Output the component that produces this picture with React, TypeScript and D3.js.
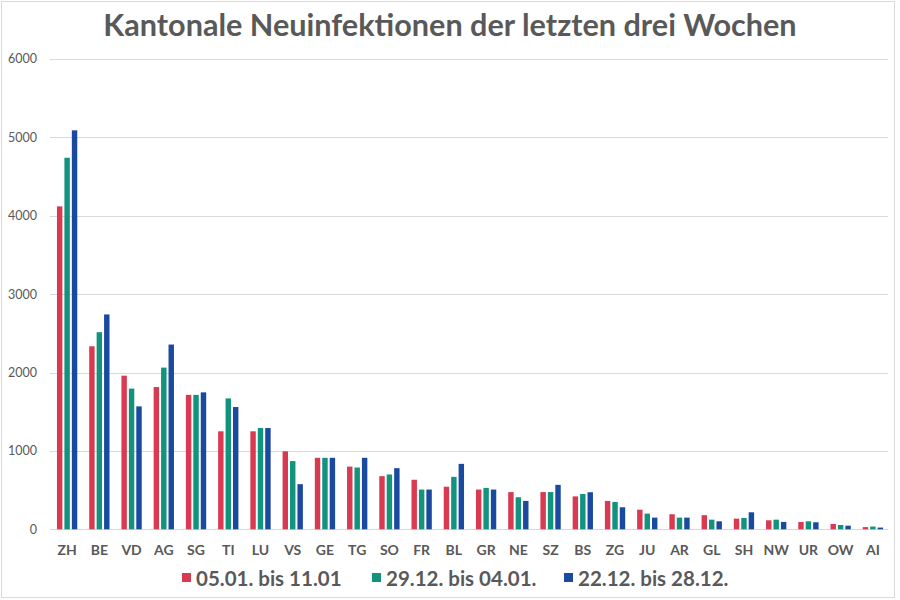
import { useMemo } from "react";
import * as d3 from "d3";

const WIDTH = 900;
const HEIGHT = 600;
const MARGIN = { top: 59, right: 11, bottom: 71, left: 51 };

const cantons = [
  "ZH", "BE", "VD", "AG", "SG", "TI", "LU", "VS", "GE", "TG", "SO", "FR", "BL",
  "GR", "NE", "SZ", "BS", "ZG", "JU", "AR", "GL", "SH", "NW", "UR", "OW", "AI",
];

// 05.01. bis 11.01
const week1 = [
  4120, 2335, 1960, 1815, 1715, 1250, 1250, 995, 912, 800, 678, 632, 543,
  507, 475, 475, 420, 362, 250, 192, 180, 136, 115, 94, 68, 28,
];
// 29.12. bis 04.01.
const week2 = [
  4740, 2515, 1795, 2063, 1715, 1670, 1292, 870, 912, 788, 699, 507, 669,
  528, 409, 475, 450, 349, 200, 149, 123, 145, 123, 102, 55, 35,
];
// 22.12. bis 28.12.
const week3 = [
  5090, 2741, 1568, 2357, 1747, 1560, 1292, 576, 912, 912, 780, 507, 835,
  507, 362, 567, 473, 281, 149, 149, 102, 217, 94, 90, 46, 22,
];

const seriesNames = ["05.01. bis 11.01", "29.12. bis 04.01.", "22.12. bis 28.12."];
const seriesColors = ["#d93a52", "#12937e", "#1a4aa0"];
const yTicks = [0, 1000, 2000, 3000, 4000, 5000, 6000];

const legendX = [182, 372, 564];

const TEXT = "#595959";
const FONT = "Lato, 'Open Sans', sans-serif";

export default function App() {
  const series = [week1, week2, week3];

  const { x, xInner, y } = useMemo(() => {
    const x = d3
      .scaleBand<string>()
      .domain(cantons)
      .range([MARGIN.left, WIDTH - MARGIN.right])
      .paddingInner(0.37)
      .paddingOuter(0.185);
    const xInner = d3
      .scaleBand<number>()
      .domain([0, 1, 2])
      .range([0, x.bandwidth()])
      .paddingInner(0.27);
    const y = d3
      .scaleLinear()
      .domain([0, 6000])
      .range([HEIGHT - MARGIN.bottom + 0.3, MARGIN.top]);
    return { x, xInner, y };
  }, []);

  return (
    <svg
      width={WIDTH}
      height={HEIGHT}
      style={{ position: "absolute", left: 0, top: 0, background: "#fff" }}
      fontFamily={FONT}
    >
      <rect x={1.5} y={1.5} width={893} height={596} fill="#fff" stroke="#d9d9d9" />

      <text
        x={450}
        y={36}
        textAnchor="middle"
        fontSize={30.6}
        fontWeight={700}
        fill={TEXT}
      >
        Kantonale Neuinfektionen der letzten drei Wochen
      </text>

      {/* Gitterlinien + y-Achse */}
      {yTicks.map((t) => (
        <g key={t}>
          <line
            x1={50}
            x2={888}
            y1={Math.round(y(t)) + 0.5}
            y2={Math.round(y(t)) + 0.5}
            stroke="#d9d9d9"
            strokeWidth={1}
          />
          <text
            x={37}
            y={y(t)}
            dy="0.35em"
            textAnchor="end"
            fontSize={12.5}
            fill={TEXT}
          >
            {t}
          </text>
        </g>
      ))}

      {/* Balken */}
      {cantons.map((c, i) => (
        <g key={c} transform={`translate(${x(c)},0)`}>
          {series.map((s, k) => (
            <rect
              key={k}
              x={xInner(k)}
              y={y(s[i])}
              width={xInner.bandwidth()}
              height={y(0) - y(s[i])}
              fill={seriesColors[k]}
            />
          ))}
          <text
            x={x.bandwidth() / 2}
            y={555}
            textAnchor="middle"
            fontSize={14}
            fontWeight={700}
            fill={TEXT}
          >
            {c}
          </text>
        </g>
      ))}

      {/* Legende */}
      {seriesNames.map((name, k) => (
        <g key={name} transform={`translate(${legendX[k]},0)`}>
          <rect x={0} y={573} width={9} height={9} fill={seriesColors[k]} />
          <text x={14} y={586} fontSize={20.5} fontWeight={700} fill={TEXT}>
            {name}
          </text>
        </g>
      ))}
    </svg>
  );
}
